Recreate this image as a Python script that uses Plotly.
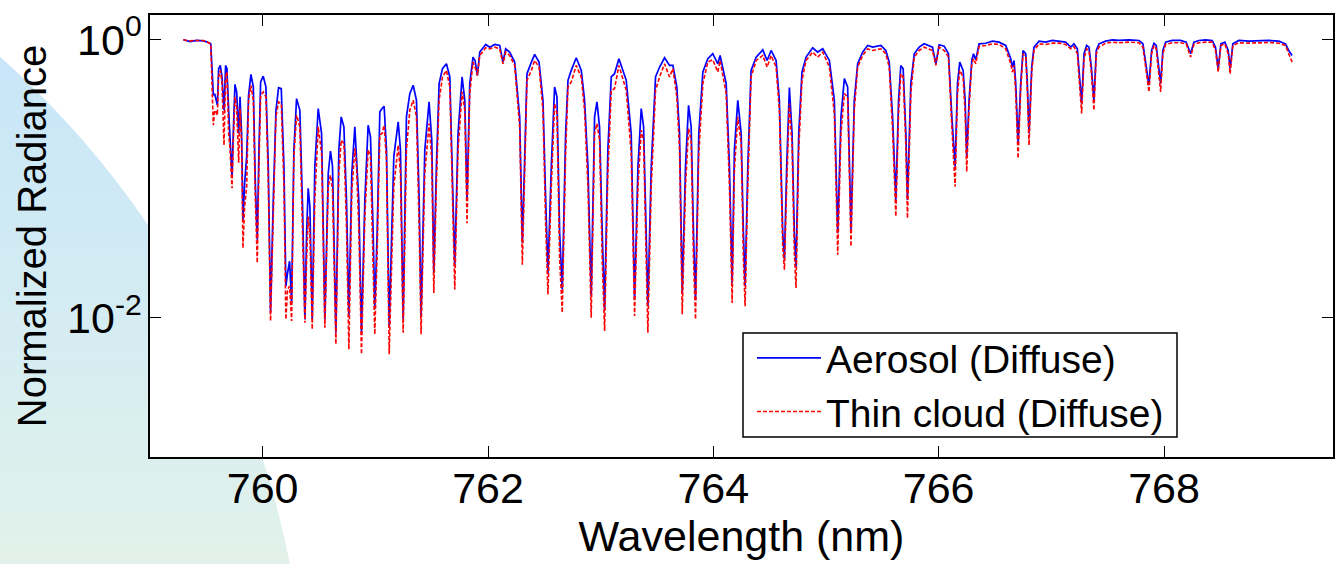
import base64
import plotly.graph_objects as go

# ---------------- data ----------------
wavelength = [
    759.296, 759.355, 759.414, 759.473, 759.503, 759.539, 759.550, 759.562, 759.574, 759.586,
    759.598, 759.609, 759.624, 759.639, 759.657, 759.671, 759.683, 759.698, 759.710, 759.728,
    759.739, 759.754, 759.769, 759.787, 759.799, 759.813, 759.825, 759.840, 759.858, 759.875,
    759.896, 759.917, 759.935, 759.952, 759.967, 759.982, 760.005, 760.029, 760.050, 760.070,
    760.094, 760.118, 760.141, 760.165, 760.189, 760.206, 760.221, 760.239, 760.257, 760.277,
    760.301, 760.330, 760.354, 760.375, 760.390, 760.404, 760.419, 760.440, 760.463, 760.493,
    760.523, 760.552, 760.582, 760.602, 760.620, 760.650, 760.676, 760.697, 760.721, 760.744,
    760.765, 760.791, 760.818, 760.833, 760.853, 760.877, 760.907, 760.936, 760.957, 760.981,
    760.995, 761.016, 761.040, 761.060, 761.078, 761.099, 761.123,
    761.164, 761.203, 761.223, 761.247, 761.276, 761.306, 761.336, 761.365, 761.389, 761.406,
    761.439, 761.477, 761.501, 761.519, 761.542, 761.566, 761.596, 761.631, 761.661, 761.684,
    761.705, 761.734, 761.770, 761.794, 761.814, 761.838, 761.867, 761.885, 761.906, 761.927,
    761.980, 762.015, 762.060, 762.104, 762.133, 762.157, 762.192, 762.237, 762.266, 762.281,
    762.305, 762.328, 762.346, 762.385, 762.414, 762.453, 762.488, 762.512, 762.532, 762.562,
    762.591, 762.612, 762.636, 762.659, 762.689, 762.710, 762.739, 762.783, 762.828, 762.857,
    762.887, 762.916, 762.946, 762.967, 762.990, 763.014, 763.035, 763.064, 763.094, 763.123,
    763.162,
    763.227, 763.271, 763.301, 763.331, 763.360, 763.381, 763.404, 763.419, 763.449, 763.487,
    763.523, 763.567, 763.611, 763.641, 763.676, 763.700, 763.724, 763.753, 763.780, 763.803,
    763.824, 763.842, 763.871, 763.907, 763.951, 763.995, 764.040, 764.060, 764.114, 764.143,
    764.167, 764.187, 764.217, 764.247, 764.267, 764.282, 764.306, 764.335, 764.380, 764.439,
    764.477, 764.513, 764.557, 764.586, 764.616, 764.631, 764.651, 764.675, 764.699, 764.719,
    764.734, 764.758, 764.787, 764.823, 764.882, 764.926, 764.971, 765.030, 765.074, 765.104,
    765.133, 765.163, 765.192, 765.222, 765.251, 765.281, 765.325, 765.370, 765.414,
    765.487, 765.531, 765.561, 765.591, 765.620, 765.644, 765.664, 765.685, 765.709, 765.723,
    765.753, 765.783, 765.827, 765.871, 765.916, 765.945, 765.975, 766.004, 766.049, 766.087,
    766.117, 766.146, 766.167, 766.187, 766.217, 766.235, 766.249, 766.270, 766.294, 766.309,
    766.329, 766.359, 766.418, 766.477, 766.536, 766.595, 766.640, 766.654, 766.669, 766.684,
    766.705, 766.728, 766.749, 766.773, 766.787, 766.802, 766.826, 766.846, 766.891, 766.950,
    767.009, 767.068, 767.127, 767.172, 767.201, 767.231, 767.269, 767.290, 767.313, 767.334,
    767.355, 767.378, 767.399, 767.423, 767.482, 767.541,
    767.600, 767.689, 767.778, 767.813, 767.843, 767.866, 767.890, 767.911, 767.931, 767.955,
    767.970, 767.990, 768.014, 768.073, 768.147, 768.197, 768.236, 768.265, 768.310, 768.369,
    768.428, 768.457, 768.481, 768.505, 768.540, 768.570, 768.587, 768.611, 768.664, 768.753,
    768.841, 768.930, 769.019, 769.078, 769.107, 769.137,
]

aerosol_diffuse = [
    0.995, 0.967, 0.984, 0.978, 0.962, 0.931, 0.634, 0.397, 0.408, 0.366,
    0.337, 0.617, 0.651, 0.538, 0.310, 0.651, 0.617, 0.310, 0.211, 0.103,
    0.211, 0.476, 0.420, 0.211, 0.387, 0.211, 0.0506, 0.0926, 0.144, 0.397,
    0.562, 0.456, 0.0926, 0.0364, 0.161, 0.495, 0.545, 0.456, 0.122, 0.0109,
    0.0704, 0.310, 0.451, 0.443, 0.122, 0.0169, 0.0210, 0.0255, 0.0128, 0.161,
    0.376, 0.310, 0.0631, 0.00974, 0.0406, 0.0853, 0.0631, 0.00974, 0.122, 0.319,
    0.211, 0.00974, 0.109, 0.158, 0.122, 0.00782, 0.161, 0.278, 0.236, 0.0704,
    0.0103, 0.109, 0.236, 0.152, 0.0704, 0.00782, 0.0704, 0.242, 0.200, 0.0406,
    0.0115, 0.0406, 0.302, 0.319, 0.331, 0.161, 0.00873,
    0.144, 0.256, 0.161, 0.00974, 0.278, 0.408, 0.469, 0.366, 0.0704, 0.0103,
    0.161, 0.356, 0.189, 0.0210, 0.122, 0.482, 0.617, 0.669, 0.538, 0.122,
    0.0234, 0.211, 0.538, 0.366, 0.0704, 0.482, 0.747, 0.707, 0.552, 0.812,
    0.921, 0.881, 0.921, 0.906, 0.688, 0.857, 0.812, 0.688, 0.387, 0.278,
    0.0345, 0.211, 0.568, 0.688, 0.781, 0.688, 0.366, 0.0704, 0.0210, 0.122,
    0.456, 0.387, 0.0406, 0.0160, 0.211, 0.509, 0.600, 0.739, 0.600, 0.366,
    0.122, 0.0143, 0.278, 0.356, 0.236, 0.0406, 0.0115, 0.161, 0.538, 0.568,
    0.727,
    0.509, 0.211, 0.0135, 0.122, 0.319, 0.236, 0.0406, 0.0121, 0.122, 0.538,
    0.634, 0.739, 0.651, 0.651, 0.456, 0.211, 0.0151, 0.122, 0.337, 0.236,
    0.0406, 0.0135, 0.211, 0.584, 0.727, 0.790, 0.669, 0.768, 0.482, 0.122,
    0.0178, 0.161, 0.366, 0.211, 0.0406, 0.0169, 0.122, 0.600, 0.747, 0.843,
    0.707, 0.834, 0.707, 0.366, 0.0406, 0.0262, 0.122, 0.451, 0.211, 0.0406,
    0.0234, 0.211, 0.584, 0.747, 0.872, 0.812, 0.857, 0.707, 0.366, 0.0406,
    0.278, 0.523, 0.456, 0.0429, 0.366, 0.669, 0.812, 0.906, 0.881,
    0.906, 0.834, 0.688, 0.278, 0.0704, 0.366, 0.651, 0.617, 0.211, 0.0704,
    0.482, 0.790, 0.881, 0.931, 0.896, 0.881, 0.669, 0.916, 0.896, 0.790,
    0.278, 0.122, 0.482, 0.688, 0.600, 0.366, 0.144, 0.366, 0.707, 0.790,
    0.715, 0.931, 0.940, 0.973, 0.957, 0.906, 0.727, 0.634, 0.707, 0.482,
    0.179, 0.482, 0.834, 0.790, 0.482, 0.211, 0.634, 0.881, 0.973, 0.957,
    0.984, 0.973, 0.957, 0.881, 0.931, 0.857, 0.346, 0.790, 0.906, 0.881,
    0.634, 0.366, 0.834, 0.931, 0.973, 0.995,
    0.984, 0.995, 0.984, 0.931, 0.634, 0.469, 0.834, 0.940, 0.906, 0.634,
    0.482, 0.834, 0.957, 0.984, 0.984, 0.957, 0.790, 0.957, 0.984, 0.995,
    0.984, 0.881, 0.617, 0.931, 0.957, 0.834, 0.617, 0.931, 0.984, 0.973,
    0.984, 0.984, 0.973, 0.931, 0.834, 0.768,
]

thin_cloud_diffuse = [
    0.995, 0.978, 0.984, 0.984, 0.962, 0.931, 0.482, 0.242, 0.310, 0.302,
    0.286, 0.538, 0.600, 0.495, 0.174, 0.538, 0.584, 0.211, 0.165, 0.0853,
    0.179, 0.387, 0.328, 0.130, 0.319, 0.179, 0.0317, 0.0631, 0.0877, 0.366,
    0.469, 0.366, 0.0704, 0.0248, 0.122, 0.397, 0.420, 0.387, 0.0926, 0.00948,
    0.0535, 0.278, 0.356, 0.346, 0.0877, 0.00974, 0.0160, 0.0169, 0.00948, 0.144,
    0.286, 0.236, 0.0406, 0.00922, 0.0262, 0.0535, 0.0406, 0.00826, 0.0704, 0.236,
    0.152, 0.00849, 0.0877, 0.106, 0.0830, 0.00645, 0.109, 0.189, 0.179, 0.0454,
    0.00594, 0.0800, 0.165, 0.122, 0.0454, 0.00547, 0.0535, 0.161, 0.144, 0.0234,
    0.00761, 0.0290, 0.206, 0.211, 0.242, 0.136, 0.00547,
    0.0877, 0.174, 0.109, 0.00782, 0.161, 0.310, 0.366, 0.278, 0.0454, 0.00761,
    0.109, 0.249, 0.136, 0.0151, 0.0926, 0.366, 0.538, 0.600, 0.456, 0.0877,
    0.0160, 0.161, 0.420, 0.310, 0.0479, 0.408, 0.688, 0.634, 0.552, 0.768,
    0.872, 0.857, 0.881, 0.857, 0.669, 0.812, 0.768, 0.651, 0.346, 0.236,
    0.0241, 0.161, 0.509, 0.600, 0.707, 0.634, 0.310, 0.0454, 0.0147, 0.0877,
    0.346, 0.294, 0.0262, 0.0109, 0.152, 0.456, 0.495, 0.651, 0.538, 0.310,
    0.0877, 0.0100, 0.211, 0.249, 0.189, 0.0262, 0.00804, 0.109, 0.431, 0.443,
    0.651,
    0.431, 0.152, 0.0103, 0.0877, 0.223, 0.189, 0.0262, 0.00782, 0.0877, 0.431,
    0.538, 0.669, 0.538, 0.617, 0.387, 0.161, 0.0106, 0.0877, 0.229, 0.189,
    0.0262, 0.00974, 0.152, 0.482, 0.688, 0.715, 0.584, 0.707, 0.408, 0.0877,
    0.0128, 0.115, 0.278, 0.179, 0.0262, 0.0121, 0.0877, 0.538, 0.707, 0.768,
    0.634, 0.768, 0.634, 0.310, 0.0326, 0.0222, 0.0877, 0.346, 0.170, 0.0290,
    0.0164, 0.161, 0.509, 0.707, 0.812, 0.747, 0.812, 0.634, 0.294, 0.0284,
    0.211, 0.408, 0.387, 0.0326, 0.310, 0.634, 0.768, 0.857, 0.834,
    0.857, 0.790, 0.634, 0.223, 0.0535, 0.294, 0.568, 0.538, 0.170, 0.0520,
    0.408, 0.747, 0.834, 0.881, 0.857, 0.834, 0.651, 0.881, 0.834, 0.747,
    0.236, 0.0877, 0.408, 0.600, 0.538, 0.294, 0.112, 0.328, 0.669, 0.727,
    0.669, 0.891, 0.906, 0.931, 0.921, 0.857, 0.669, 0.584, 0.651, 0.408,
    0.140, 0.431, 0.790, 0.747, 0.431, 0.174, 0.584, 0.834, 0.931, 0.921,
    0.941, 0.941, 0.921, 0.857, 0.891, 0.790, 0.294, 0.727, 0.857, 0.834,
    0.584, 0.310, 0.790, 0.881, 0.941, 0.957,
    0.947, 0.957, 0.947, 0.881, 0.584, 0.420, 0.790, 0.906, 0.857, 0.584,
    0.420, 0.790, 0.921, 0.947, 0.947, 0.931, 0.747, 0.921, 0.947, 0.957,
    0.957, 0.834, 0.584, 0.906, 0.931, 0.790, 0.568, 0.906, 0.947, 0.941,
    0.952, 0.952, 0.941, 0.906, 0.790, 0.688,
]

series_names = ["Aerosol (Diffuse)", "Thin cloud (Diffuse)"]
x_ticks = [760, 762, 764, 766, 768]
y_ticks = [1e-2, 1e0]
y_tick_labels = ["10<sup>-2</sup>", "10<sup>0</sup>"]

# ---------------- figure ----------------
W, H = 1340, 564
L, R, T, B = 150, 7, 15, 107
PW, PH = W - L - R, H - T - B
FONT = "Liberation Sans, Arial, Helvetica, sans-serif"


def px_x(px):
    return (px - L) / PW


def px_y(py):
    return (H - B - py) / PH


fig = go.Figure()
fig.add_trace(go.Scatter(
    x=wavelength, y=aerosol_diffuse, mode="lines", name=series_names[0],
    line=dict(color="#0000ff", width=1.7),
))
fig.add_trace(go.Scatter(
    x=wavelength, y=thin_cloud_diffuse, mode="lines", name=series_names[1],
    line=dict(color="#ff0000", width=1.6, dash="4px,2px"),
))

# decorative slide background blob (light blue -> light green)
svg = f'''<svg xmlns="http://www.w3.org/2000/svg" width="{W}" height="{H}" viewBox="0 0 {W} {H}" preserveAspectRatio="none">
<defs><linearGradient id="g" gradientUnits="userSpaceOnUse" x1="0" y1="50" x2="0" y2="564">
<stop offset="0" stop-color="#c8e6f9"/><stop offset="0.6" stop-color="#d6edf1"/><stop offset="1" stop-color="#e2f2ea"/></linearGradient></defs>
<circle cx="-607" cy="740" r="914" fill="url(#g)"/>
<rect x="{L}" y="{T}" width="{PW}" height="{PH}" fill="#ffffff"/>
</svg>'''
uri = "data:image/svg+xml;base64," + base64.b64encode(svg.encode()).decode()

fig.update_layout(
    width=W, height=H,
    margin=dict(l=L, r=R, t=T, b=B, pad=0, autoexpand=False),
    paper_bgcolor="white", plot_bgcolor="white",
    font=dict(family=FONT, color="black"),
    images=[dict(source=uri, xref="paper", yref="paper",
                 x=px_x(0), y=px_y(0), sizex=W / PW, sizey=H / PH,
                 xanchor="left", yanchor="top", sizing="stretch", layer="below")],
    shapes=[dict(type="rect", xref="paper", yref="paper",
                 x0=px_x(743), x1=px_x(1177), y0=px_y(437), y1=px_y(333),
                 fillcolor="white", line=dict(color="black", width=1.5),
                 layer="above")],
    showlegend=True,
    legend=dict(
        x=px_x(752), y=px_y(326), xanchor="left", yanchor="top",
        bgcolor="rgba(0,0,0,0)", borderwidth=0,
        font=dict(family=FONT, size=39, color="black"),
        itemwidth=64, tracegroupgap=0, traceorder="normal",
    ),
    xaxis=dict(
        range=[759, 769.5], tickvals=x_ticks, ticks="inside", ticklen=11,
        tickwidth=1, tickcolor="black", showline=True, linecolor="black",
        linewidth=1.5, mirror="ticks", showgrid=False, zeroline=False,
        automargin=False,
        tickfont=dict(family=FONT, size=43), ticklabelstandoff=-7,
        title=dict(text="Wavelength (nm)", font=dict(family=FONT, size=43), standoff=2),
    ),
    yaxis=dict(
        type="log", range=[-3, 0.176], tickvals=y_ticks, ticktext=y_tick_labels,
        ticks="inside", ticklen=11, tickwidth=1, tickcolor="black",
        showline=True, linecolor="black", linewidth=1.5, mirror="ticks",
        showgrid=False, zeroline=False, automargin=False,
        tickfont=dict(family=FONT, size=43), ticklabelstandoff=-2,
        title=dict(text="Normalized Radiance", font=dict(family=FONT, size=40), standoff=8),
    ),
)

fig.write_html("out.html")
